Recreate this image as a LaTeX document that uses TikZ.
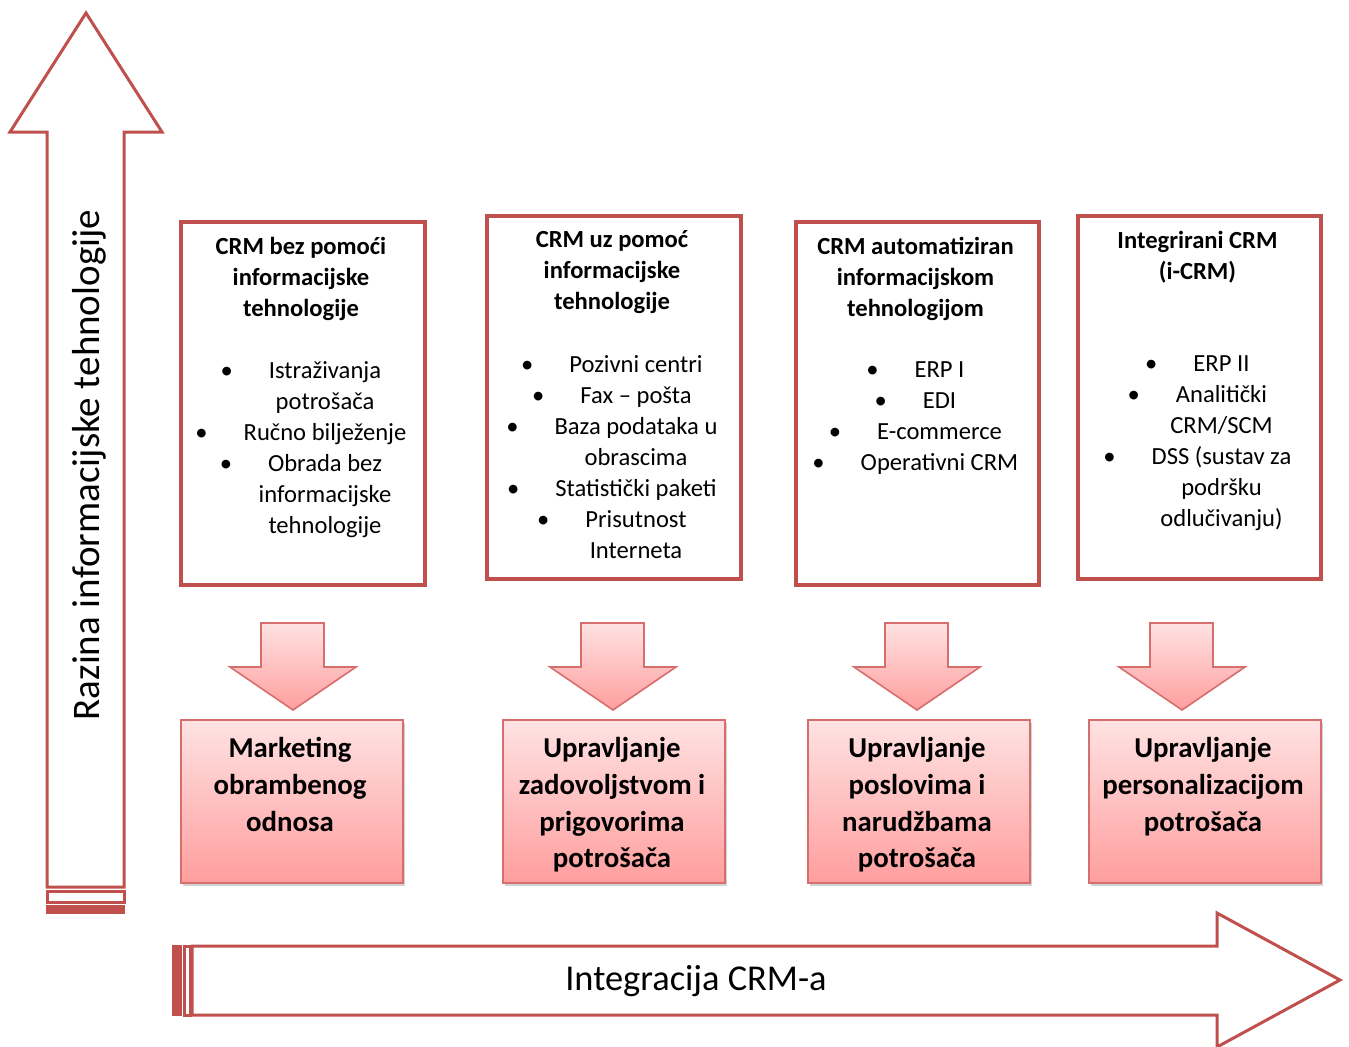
\documentclass[tikz,border=0pt]{standalone}
\usepackage{fontspec}
\setmainfont{Carlito}
\usetikzlibrary{shadows}
\definecolor{crmred}{RGB}{192,80,77}
\definecolor{pinktop}{RGB}{255,226,226}
\definecolor{pinkbot}{RGB}{255,158,158}
\definecolor{pinkline}{RGB}{214,110,110}
\newcommand{\itm}{\llap{\textbullet\hspace{18pt}}}
\tikzset{
 stagebox/.style={draw=crmred, line width=1.6pt, minimum height=181.5pt, inner sep=0pt},
 stagetitle/.style={anchor=north, align=center, inner sep=0pt, font=\fontsize{12.3}{15.5}\selectfont\bfseries},
 stagelist/.style={anchor=north, align=center, inner sep=0pt, font=\fontsize{12.3}{15.5}\selectfont},
 resultbox/.style={draw=pinkline, line width=0.8pt, top color=pinktop, bottom color=pinkbot,
   minimum height=81.5pt, inner sep=0pt,
   drop shadow={opacity=0.35, shadow xshift=1.2pt, shadow yshift=-1.5pt}},
 resulttext/.style={anchor=north, align=center, inner sep=0pt, font=\fontsize{14.4}{18.3}\selectfont\bfseries},
 bigarrow/.style={draw=crmred, line width=1.5pt, fill=white, line join=miter},
 downarrow/.style={draw=pinkline, line width=0.8pt, top color=pinktop, bottom color=pinkbot},
}
\begin{document}
\begin{tikzpicture}[x=0.5pt, y=-0.5pt]
\useasboundingbox (0,0) rectangle (1349,1046);
% vertical axis arrow
\path[bigarrow] (47,887) -- (47,132) -- (10,132) -- (86,13) -- (162,132) -- (124,132) -- (124,887) -- cycle;
\draw[crmred, line width=1.5pt, fill=white] (47,891) rectangle (124,902);
\filldraw[crmred, line width=1pt] (47,906) rectangle (124,913);
\node[rotate=90, font=\fontsize{19.5}{24}\selectfont] (ylabel) at (89,465) {Razina informacijske tehnologije};
% horizontal axis arrow
\path[bigarrow] (192,946) -- (1217,946) -- (1217,913) -- (1340,980) -- (1217,1047) -- (1217,1015) -- (192,1015) -- cycle;
\filldraw[crmred, line width=1pt] (173,946) rectangle (181,1015);
\draw[crmred, line width=1.5pt, fill=white] (184,946) rectangle (190,1015);
\node[font=\fontsize{18.2}{22}\selectfont] (xlabel) at (696,981) {Integracija CRM-a};
% stages
\node[stagebox, minimum width=122pt] (box1) at (303,403.5) {};
\node[stagebox, minimum width=127pt] (box2) at (614,397.5) {};
\node[stagebox, minimum width=121.5pt] (box3) at (917.5,403.5) {};
\node[stagebox, minimum width=121.5pt] (box4) at (1199.5,397.5) {};
\node[stagetitle] (ttl1) at ([xshift=-1pt, yshift=-8pt]box1.north) {CRM bez pomoći\\informacijske\\tehnologije};
\node[stagetitle] (ttl2) at ([xshift=-1pt, yshift=-8pt]box2.north) {CRM uz pomoć\\informacijske\\tehnologije};
\node[stagetitle] (ttl3) at ([xshift=-1pt, yshift=-8pt]box3.north) {CRM automatiziran\\informacijskom\\tehnologijom};
\node[stagetitle] (ttl4) at ([xshift=-1pt, yshift=-8pt]box4.north) {Integrirani CRM\\(i-CRM)};
\node[stagelist] (lst1) at ([xshift=11pt, yshift=-70.5pt]box1.north)
  {\itm Istraživanja\\potrošača\\\itm Ručno bilježenje\\\itm Obrada bez\\informacijske\\tehnologije};
\node[stagelist] (lst2) at ([xshift=11pt, yshift=-70.5pt]box2.north)
  {\itm Pozivni centri\\\itm Fax – pošta\\\itm Baza podataka u\\obrascima\\\itm Statistički paketi\\\itm Prisutnost\\Interneta};
\node[stagelist] (lst3) at ([xshift=11pt, yshift=-70.5pt]box3.north)
  {\itm ERP I\\\itm EDI\\\itm E-commerce\\\itm Operativni CRM};
\node[stagelist] (lst4) at ([xshift=11pt, yshift=-70.5pt]box4.north)
  {\itm ERP II\\\itm Analitički\\CRM/SCM\\\itm DSS (sustav za\\podršku\\odlučivanju)};
% down arrows
\foreach \ax in {293,613,917,1182}
  \path[downarrow] (\ax-32,623) -- (\ax+31,623) -- (\ax+31,667) -- (\ax+63,667) -- (\ax,710)
    -- (\ax-63,667) -- (\ax-32,667) -- cycle;
% results
\node[resultbox, minimum width=111pt] (res1) at (292,801.5) {};
\node[resultbox, minimum width=111pt] (res2) at (614,801.5) {};
\node[resultbox, minimum width=111pt] (res3) at (919,801.5) {};
\node[resultbox, minimum width=116pt] (res4) at (1205,801.5) {};
\node[resulttext] (rtx1) at ([xshift=-1pt, yshift=-9pt]res1.north) {Marketing\\obrambenog\\odnosa};
\node[resulttext] (rtx2) at ([xshift=-1pt, yshift=-9pt]res2.north) {Upravljanje\\zadovoljstvom i\\prigovorima\\potrošača};
\node[resulttext] (rtx3) at ([xshift=-1pt, yshift=-9pt]res3.north) {Upravljanje\\poslovima i\\narudžbama\\potrošača};
\node[resulttext] (rtx4) at ([xshift=-1pt, yshift=-9pt]res4.north) {Upravljanje\\personalizacijom\\potrošača};
\end{tikzpicture}
\end{document}
